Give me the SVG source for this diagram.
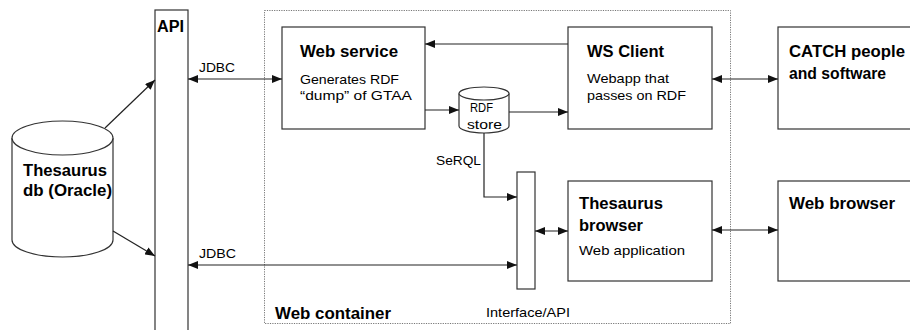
<svg xmlns="http://www.w3.org/2000/svg" width="910" height="330" viewBox="0 0 910 330">
<style>
text{font-family:"Liberation Sans",Arial,sans-serif;fill:#000}
.b{font-weight:bold;font-size:16px}
.s{font-size:13px}
.box{fill:#fff;stroke:#333;stroke-width:1.2}
.ln{fill:none;stroke:#222;stroke-width:1.2}
.cont{fill:none;stroke:#777;stroke-width:1;stroke-dasharray:1.2,1.2}
</style>
<defs>
<marker id="ah" viewBox="0 0 10 8" refX="10" refY="4" markerWidth="10" markerHeight="8" markerUnits="userSpaceOnUse" orient="auto-start-reverse">
<path d="M0,0 L10,4 L0,8 Z" fill="#111"/>
</marker>
</defs>
<g id="web-container">
<rect class="cont" x="264.5" y="10.5" width="466" height="313"/>
<text class="b" x="275" y="319" textLength="116" lengthAdjust="spacingAndGlyphs">Web container</text>
</g>
<g id="api">
<rect class="box" x="155" y="10" width="33" height="330"/>
<text class="b" x="157" y="32" textLength="27" lengthAdjust="spacingAndGlyphs">API</text>
</g>
<g id="thesaurus-db">
<path class="box" d="M12,138 L12,240 A50.5,17 0 0 0 113,240 L113,138"/>
<ellipse class="box" cx="62.5" cy="138" rx="50.5" ry="17"/>
<text class="b" x="23" y="176" textLength="84" lengthAdjust="spacingAndGlyphs">Thesaurus</text>
<text class="b" x="23" y="196" textLength="89" lengthAdjust="spacingAndGlyphs">db (Oracle)</text>
</g>
<g id="web-service">
<rect class="box" x="282" y="27" width="143" height="102"/>
<text class="b" x="300" y="57" textLength="98" lengthAdjust="spacingAndGlyphs">Web service</text>
<text class="s" x="300" y="84" textLength="99" lengthAdjust="spacingAndGlyphs">Generates RDF</text>
<text class="s" x="300" y="100" textLength="112" lengthAdjust="spacingAndGlyphs">“dump” of GTAA</text>
</g>
<g id="rdf-store">
<path class="box" d="M459,93.5 L459,126 A25,7 0 0 0 509,126 L509,93.5"/>
<ellipse class="box" cx="484" cy="93.5" rx="25" ry="6.5"/>
<text class="s" x="470" y="112" textLength="23" lengthAdjust="spacingAndGlyphs">RDF</text>
<text class="s" x="467" y="129" textLength="35" lengthAdjust="spacingAndGlyphs">store</text>
</g>
<g id="ws-client">
<rect class="box" x="568" y="27" width="144" height="102"/>
<text class="b" x="587" y="57" textLength="77" lengthAdjust="spacingAndGlyphs">WS Client</text>
<text class="s" x="587" y="83" textLength="82" lengthAdjust="spacingAndGlyphs">Webapp that</text>
<text class="s" x="587" y="100" textLength="99" lengthAdjust="spacingAndGlyphs">passes on RDF</text>
</g>
<g id="catch">
<rect class="box" x="778" y="27" width="150" height="102"/>
<text class="b" x="789" y="57" textLength="116" lengthAdjust="spacingAndGlyphs">CATCH people</text>
<text class="b" x="789" y="79" textLength="97" lengthAdjust="spacingAndGlyphs">and software</text>
</g>
<g id="interface">
<rect class="box" x="517" y="172" width="18" height="117"/>
<text class="s" x="486" y="317" textLength="84" lengthAdjust="spacingAndGlyphs">Interface/API</text>
</g>
<g id="thesaurus-browser">
<rect class="box" x="568" y="181" width="144" height="100"/>
<text class="b" x="579" y="209" textLength="84" lengthAdjust="spacingAndGlyphs">Thesaurus</text>
<text class="b" x="579" y="231" textLength="64" lengthAdjust="spacingAndGlyphs">browser</text>
<text class="s" x="579" y="255" textLength="106" lengthAdjust="spacingAndGlyphs">Web application</text>
</g>
<g id="web-browser">
<rect class="box" x="778" y="181" width="150" height="100"/>
<text class="b" x="789" y="209" textLength="106" lengthAdjust="spacingAndGlyphs">Web browser</text>
</g>
<g id="connectors">
<line class="ln" x1="105" y1="128" x2="155" y2="80" marker-end="url(#ah)"/>
<line class="ln" x1="113" y1="231" x2="155" y2="256" marker-end="url(#ah)"/>
<line class="ln" x1="188" y1="79" x2="282" y2="79" marker-start="url(#ah)" marker-end="url(#ah)"/>
<text class="s" x="199" y="72" textLength="36" lengthAdjust="spacingAndGlyphs">JDBC</text>
<line class="ln" x1="188" y1="265" x2="517" y2="265" marker-start="url(#ah)" marker-end="url(#ah)"/>
<text class="s" x="199" y="258" textLength="37" lengthAdjust="spacingAndGlyphs">JDBC</text>
<line class="ln" x1="568" y1="44" x2="425" y2="44" marker-end="url(#ah)"/>
<line class="ln" x1="425" y1="110" x2="459" y2="110" marker-end="url(#ah)"/>
<line class="ln" x1="509" y1="112" x2="568" y2="112" marker-end="url(#ah)"/>
<line class="ln" x1="712" y1="79" x2="778" y2="79" marker-start="url(#ah)" marker-end="url(#ah)"/>
<polyline class="ln" points="484,133 484,197 517,197" marker-end="url(#ah)"/>
<text class="s" x="436" y="165" textLength="45" lengthAdjust="spacingAndGlyphs">SeRQL</text>
<line class="ln" x1="535" y1="231" x2="568" y2="231" marker-start="url(#ah)" marker-end="url(#ah)"/>
<line class="ln" x1="712" y1="230" x2="778" y2="230" marker-start="url(#ah)" marker-end="url(#ah)"/>
</g>
</svg>
